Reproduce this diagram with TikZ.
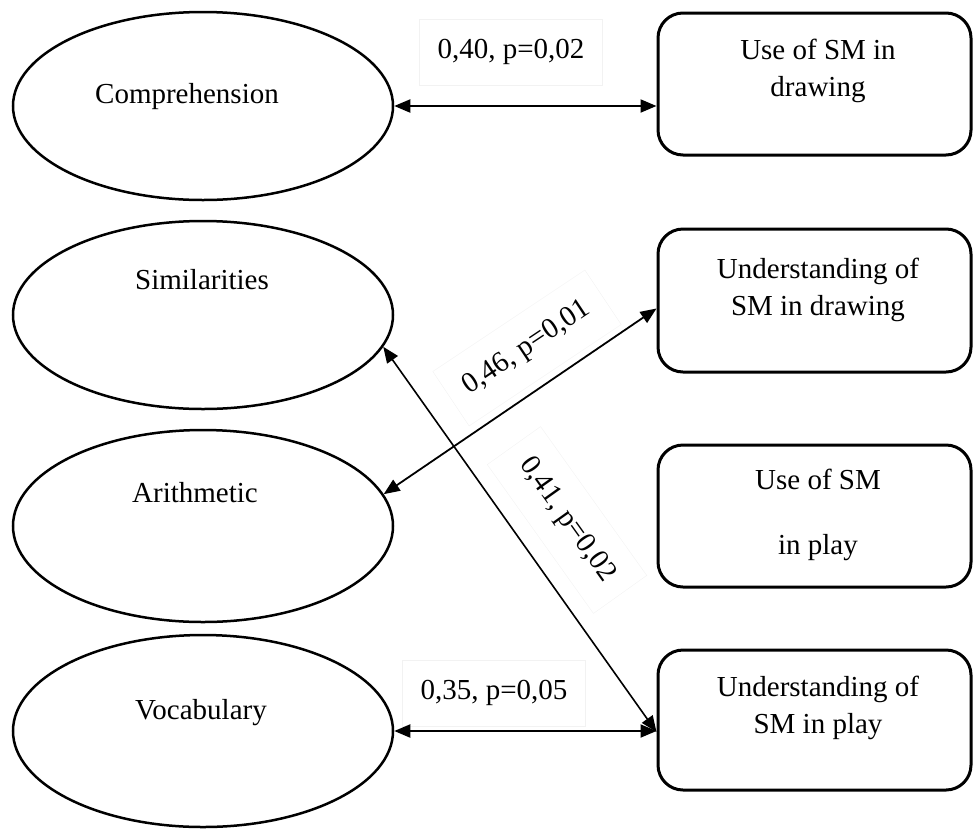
\documentclass[tikz,border=0pt]{standalone}
\usepackage{fontspec}
\setmainfont{Liberation Serif}
\usetikzlibrary{arrows.meta,shapes.geometric}
\begin{document}
\begin{tikzpicture}[x=1pt,y=-1pt,
  ell/.style={draw, line width=2.5pt, ellipse, minimum width=380pt, minimum height=190pt, inner sep=0pt},
  box/.style={draw, line width=3pt, rounded corners=25pt, minimum width=313pt, minimum height=142pt, inner sep=0pt},
  txt/.style={font=\fontsize{29}{37}\selectfont, align=center, inner sep=0pt},
  lbl/.style={font=\fontsize{29}{37}\selectfont, draw=black!5, inner xsep=18pt, inner ysep=20pt},
  conn/.style={line width=2pt, {Triangle[length=16pt,width=13pt]}-{Triangle[length=16pt,width=13pt]}}
]
\useasboundingbox (0,0) rectangle (973,828);
% ellipses
\node[ell, minimum height=188pt] (e1) at (203,106) {};
\node[ell, minimum height=188pt] (e2) at (203,315) {};
\node[ell, minimum height=192pt] (e3) at (203,526) {};
\node[ell, minimum height=192pt] (e4) at (203,731) {};
\node[txt] (t1) at (187,97) {Comprehension};
\node[txt] (t2) at (202,280) {Similarities};
\node[txt] (t3) at (195,493) {Arithmetic};
\node[txt] (t4) at (201,713) {Vocabulary};
% boxes
\node[box] (b1) at (814.5,84) {};
\node[box, minimum height=143pt] (b2) at (814.5,300.5) {};
\node[box] (b3) at (814.5,516) {};
\node[box, minimum height=140pt] (b4) at (814.5,720) {};
\node[txt] (s1) at (818,71) {Use of SM in\\drawing};
\node[txt] (s2) at (818,290) {Understanding of\\SM in drawing};
\node[txt] (s3) at (818,515) {Use of SM\\[28pt]in play};
\node[txt] (s4) at (818,708) {Understanding of\\SM in play};
% labels
\node[lbl] (l1) at (511,52) {0,40, p=0,02};
\node[lbl, rotate=33.7] (l2) at (527,348) {0,46, p=0,01};
\node[lbl, rotate=-54.5] (l3) at (567,520) {0,41, p=0,02};
\node[lbl] (l4) at (494,693) {0,35, p=0,05};
% connectors
\draw[conn] (e1.east) -- (e1.east -| b1.west);
\draw[conn, line width=1.8pt] (e3.10) -- ([yshift=-8pt]b2.west);
\draw[conn, line width=1.6pt] (e2.-10) -- ([yshift=-12pt]b4.west);
\draw[conn] (e4.east) -- (e4.east -| b4.west);
\end{tikzpicture}
\end{document}
